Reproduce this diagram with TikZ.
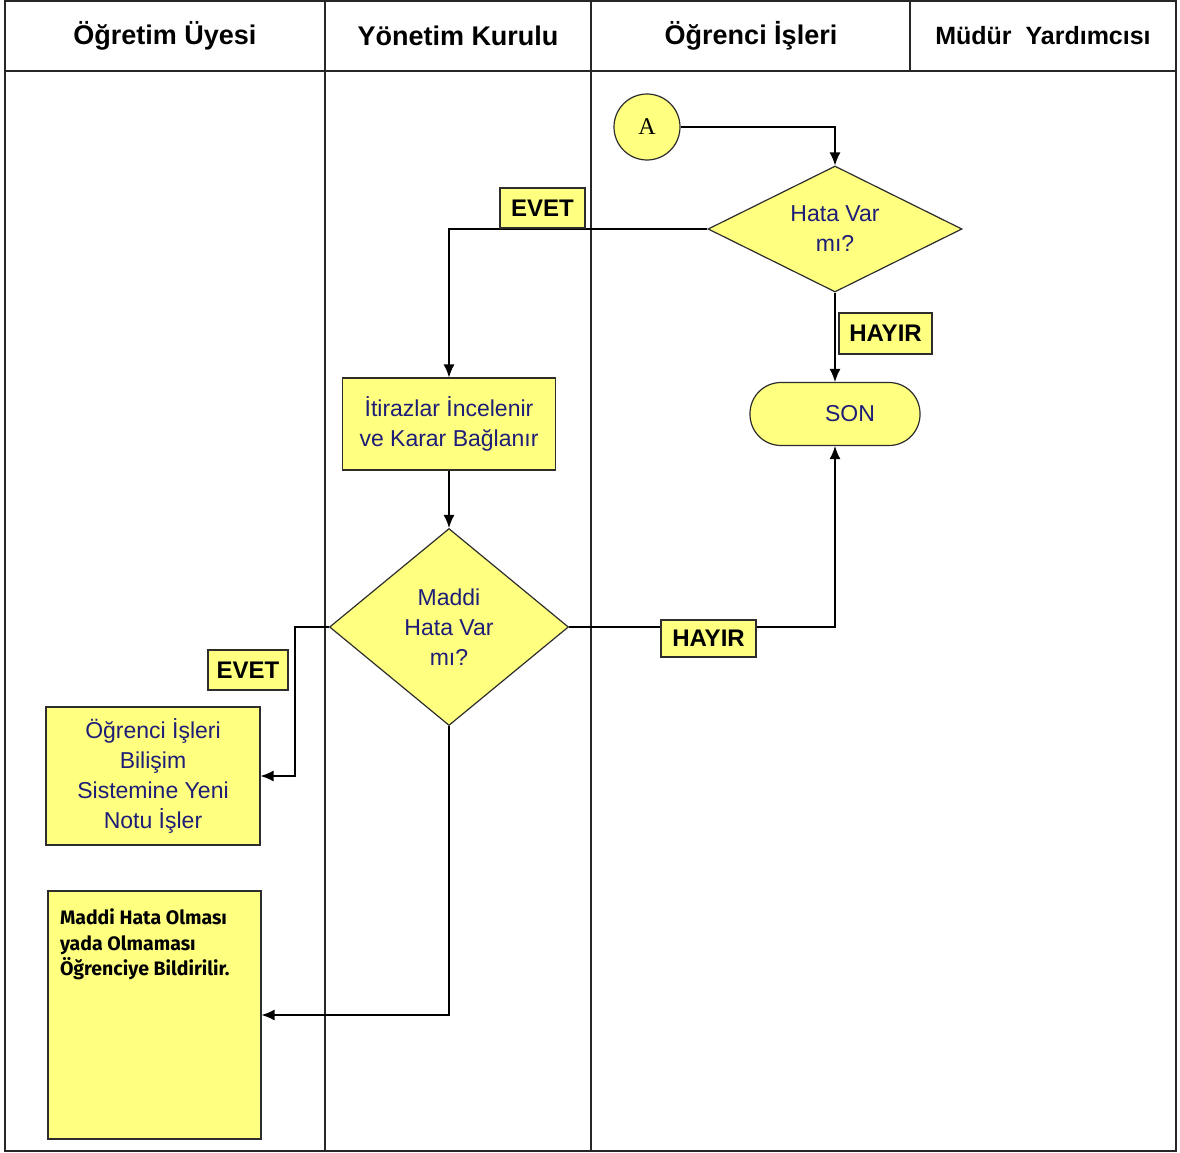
\documentclass[tikz,border=0pt]{standalone}
\usepackage{fontspec}
\setmainfont{Liberation Sans}
\newfontfamily\circlefont{Liberation Serif}
\newfontfamily\notefont{Fira Sans}
\usetikzlibrary{shapes.geometric,positioning,arrows.meta}

\definecolor{boxyellow}{RGB}{255,255,128}
\definecolor{textnavy}{RGB}{30,30,120}
\definecolor{edgegray}{RGB}{45,45,45}

\tikzset{
    lane/.style={line width=1.4pt, black!85},
    lanehead/.style={font=\bfseries\fontsize{27}{30}\selectfont},
    process/.style={draw=edgegray, fill=boxyellow, line width=1.2pt,
        text=textnavy, font=\fontsize{23}{30}\selectfont, align=center, inner sep=0pt},
    decision/.style={process, diamond},
    answer/.style={draw=edgegray, fill=boxyellow, line width=1.2pt,
        font=\bfseries\fontsize{24}{28}\selectfont, inner sep=0pt},
    flow/.style={line width=1.3pt, -{Latex[length=13pt,width=11pt]}}
}

\begin{document}
\begin{tikzpicture}[x=1pt,y=-1pt]
\useasboundingbox (0,0) rectangle (1180,1153);

% Swimlanes
\draw[lane] (5,1) rectangle (1176,1151);
\draw[lane] (5,71) -- (1176,71);
\draw[lane] (325,1) -- (325,1151);
\draw[lane] (591,1) -- (591,1151);
\draw[lane] (910,1) -- (910,71);

\node[lanehead] (head1) at (165,36) {Öğretim Üyesi};
\node[lanehead] (head2) at (458,36) {Yönetim Kurulu};
\node[lanehead] (head3) at (751,36) {Öğrenci İşleri};
\node[lanehead, font=\bfseries\fontsize{25}{28}\selectfont] (head4) at (1043,36) {Müdür\ \ Yardımcısı};

% Start connector
\node[process, circle, minimum size=66pt, text=black,
    font=\circlefont\fontsize{24}{28}\selectfont] (circleA) at (647,127) {A};

% Decisions
\node[decision, minimum width=254pt, minimum height=126pt, aspect=2]
    (decision1) at (835,229) {Hata Var\\mı?};
\node[decision, minimum width=239pt, minimum height=197pt, aspect=1.2]
    (decision2) at (449,627) {Maddi\\Hata Var\\mı?};

% Process blocks
\node[process, minimum width=213pt, minimum height=92pt]
    (block1) at (449,424) {İtirazlar İncelenir\\ve Karar Bağlanır};
\node[process, minimum width=214pt, minimum height=138pt]
    (block2) at (153,776) {Öğrenci İşleri\\Bilişim\\Sistemine Yeni\\Notu İşler};
\node[process, inner xsep=12pt, inner ysep=10pt, text=black,
    font=\notefont\bfseries\fontsize{19.5}{25.5}\selectfont]
    (block3) at (154.5,1015) {\parbox[c][228pt][t]{189pt}{\raggedright\vspace*{8pt}
        Maddi Hata Olması\\yada Olmaması\\Öğrenciye Bildirilir.}};

% End block
\node[process, rounded corners=31pt, minimum width=170pt, minimum height=63pt]
    (son) at (835,414) {\hspace*{30pt}SON};

% Arrows
\draw[flow] (circleA.east) -| (decision1.north);
\draw[flow] (decision1.west) -| (block1.north);
\draw[flow] (decision1.south) -- (son.north);
\draw[flow] (block1.south) -- (decision2.north);
\draw[flow] (decision2.east) -| (son.south);
\coordinate (bend1) at (295,627);
\draw[flow] (decision2.west) -- (bend1) |- (block2.east);
\draw[flow] (decision2.south) |- (block3.east);

% Answer labels
\node[answer, minimum width=85pt, minimum height=40pt] (yes1) at (542.5,208) {EVET};
\node[answer, minimum width=93pt, minimum height=41pt] (no1) at (885.5,333.5) {HAYIR};
\node[answer, minimum width=95pt, minimum height=37pt] (no2) at (708.5,638.5) {HAYIR};
\node[answer, minimum width=80pt, minimum height=40pt] (yes2) at (248,670) {EVET};

\end{tikzpicture}
\end{document}
